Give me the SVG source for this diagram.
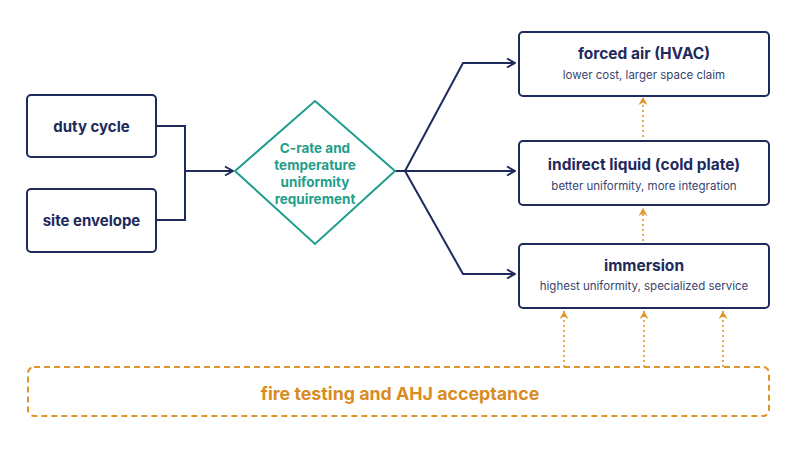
<svg xmlns="http://www.w3.org/2000/svg" width="800" height="450" viewBox="0 0 800 450">
<defs>
<style>
.box{fill:#ffffff;stroke:#1e2a5c;stroke-width:2}
.t{font-family:Inter,"Noto Sans","Liberation Sans",sans-serif;font-weight:700;fill:#1e2a5c;text-anchor:middle}
.s{font-family:Inter,"Noto Sans","Liberation Sans",sans-serif;font-weight:400;fill:#3a4470;text-anchor:middle;font-size:11.5px}
.dt{font-family:Inter,"Noto Sans","Liberation Sans",sans-serif;font-weight:700;fill:#1f9e8c;text-anchor:middle;font-size:13.5px}
.ft{font-family:Inter,"Noto Sans","Liberation Sans",sans-serif;font-weight:700;fill:#d98c1f;text-anchor:middle;font-size:17.8px}
.c{fill:none;stroke:#1e2a5c;stroke-width:2}
.d{fill:none;stroke:#e0952a;stroke-width:1.6;stroke-dasharray:2 3}
</style>
<marker id="ah" viewBox="0 0 12 12" refX="11" refY="6" markerWidth="12" markerHeight="12" markerUnits="userSpaceOnUse" orient="auto">
<path d="M3,1.5 L11,6 L3,10.5" fill="none" stroke="#1e2a5c" stroke-width="2"/>
</marker>
<marker id="oh" viewBox="0 0 10 10" refX="9" refY="5" markerWidth="10" markerHeight="10" markerUnits="userSpaceOnUse" orient="auto">
<path d="M1,0.5 L9,5 L1,9.5 L3.5,5 Z" fill="#e0952a"/>
</marker>
</defs>
<rect width="800" height="450" fill="#ffffff"/>
<g id="connectors">
<path class="c" d="M156,126 H185 V220 H156"/>
<path class="c" d="M185,171 H233" marker-end="url(#ah)"/>
<path class="c" d="M395,171 H405 L463,63 H515" marker-end="url(#ah)"/>
<path class="c" d="M405,171 H515" marker-end="url(#ah)"/>
<path class="c" d="M405,171 L463,274 H515" marker-end="url(#ah)"/>
<path class="d" d="M643,241 V208" marker-end="url(#oh)"/>
<path class="d" d="M643,137 V97" marker-end="url(#oh)"/>
<path class="d" d="M564,367 V311" marker-end="url(#oh)"/>
<path class="d" d="M644,367 V311" marker-end="url(#oh)"/>
<path class="d" d="M723,367 V311" marker-end="url(#oh)"/>
</g>
<g id="duty-cycle">
<rect class="box" x="27" y="95" width="129" height="62" rx="4"/>
<text class="t" x="91.5" y="131.5" font-size="15">duty cycle</text>
</g>
<g id="site-envelope">
<rect class="box" x="27" y="189" width="129" height="63" rx="4"/>
<text class="t" x="91.5" y="225.5" font-size="15">site envelope</text>
</g>
<g id="requirement">
<polygon points="315,101 395,171 315,244 235,171" fill="#ffffff" stroke="#1f9e8c" stroke-width="2"/>
<text class="dt" x="315" y="153">C-rate and</text>
<text class="dt" x="315" y="170">temperature</text>
<text class="dt" x="315" y="187">uniformity</text>
<text class="dt" x="315" y="204">requirement</text>
</g>
<g id="forced-air">
<rect class="box" x="519" y="32" width="250" height="64" rx="4"/>
<text class="t" x="644" y="59" font-size="15.5">forced air (HVAC)</text>
<text class="s" x="644" y="79">lower cost, larger space claim</text>
</g>
<g id="indirect-liquid">
<rect class="box" x="519" y="141" width="250" height="64" rx="4"/>
<text class="t" x="644" y="170" font-size="15.5">indirect liquid (cold plate)</text>
<text class="s" x="644" y="190">better uniformity, more integration</text>
</g>
<g id="immersion">
<rect class="box" x="519" y="244" width="250" height="64" rx="4"/>
<text class="t" x="644" y="271" font-size="15.5">immersion</text>
<text class="s" x="644" y="290">highest uniformity, specialized service</text>
</g>
<g id="fire-testing">
<rect x="28" y="367" width="741" height="49" rx="6" fill="none" stroke="#e0952a" stroke-width="2" stroke-dasharray="6 4"/>
<text class="ft" x="400" y="400">fire testing and AHJ acceptance</text>
</g>
</svg>
